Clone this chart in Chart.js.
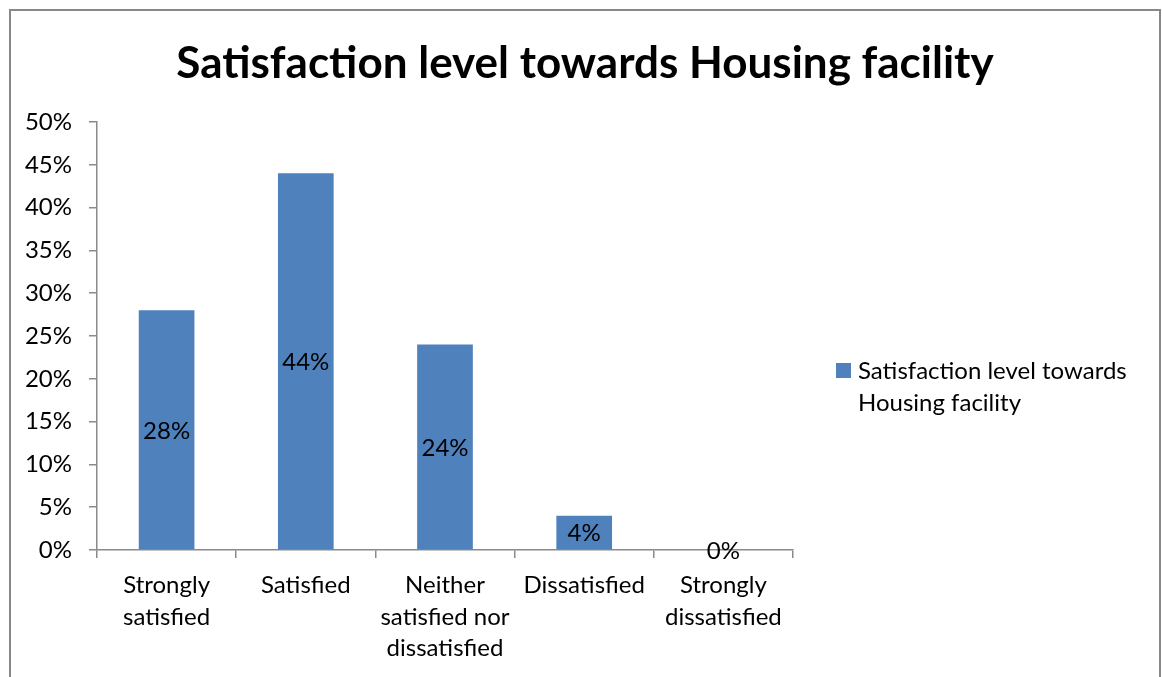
<!DOCTYPE html>
<html>
<head>
<meta charset="utf-8">
<title>Satisfaction level towards Housing facility</title>
<script src="https://cdn.jsdelivr.net/npm/chart.js@4"></script>
<style>
  body { margin: 0; background: #fff; }
  #wrap { position: relative; width: 1162px; height: 677px; }
</style>
</head>
<body>
<div id="wrap">
  <canvas id="housing-chart" width="1162" height="677"></canvas>
</div>
<script>
const chartTitle = 'Satisfaction level towards Housing facility';
const seriesName = ['Satisfaction level towards', 'Housing facility'];
const categories = [
  ['Strongly', 'satisfied'],
  ['Satisfied'],
  ['Neither', 'satisfied nor', 'dissatisfied'],
  ['Dissatisfied'],
  ['Strongly', 'dissatisfied']
];
const percentValues = [28, 44, 24, 4, 0];
const yTicks = [0, 5, 10, 15, 20, 25, 30, 35, 40, 45, 50];

const FONT = 'Lato, Calibri, Carlito, sans-serif';
const TEXT_SIZE = 24;
const barColor = '#4f81bd';
const axisColor = '#8a8a8a';

// outer frame + title, centred on the whole canvas
const framePlugin = {
  id: 'frame',
  beforeDraw(chart) {
    const ctx = chart.ctx;
    ctx.save();
    ctx.strokeStyle = '#888888';
    ctx.lineWidth = 2;
    ctx.beginPath();
    ctx.moveTo(10, 700);
    ctx.lineTo(10, 10);
    ctx.lineTo(1160, 10);
    ctx.lineTo(1160, 700);
    ctx.stroke();

    ctx.fillStyle = '#000';
    ctx.font = 'bold 44px ' + FONT;
    ctx.textAlign = 'center';
    ctx.textBaseline = 'middle';
    ctx.fillText(chartTitle, 585, 64);
    ctx.restore();
  }
};

// value labels in the middle of each bar
const barLabels = {
  id: 'barLabels',
  afterDatasetsDraw(chart) {
    const ctx = chart.ctx;
    const meta = chart.getDatasetMeta(0);
    ctx.save();
    ctx.font = TEXT_SIZE + 'px ' + FONT;
    ctx.fillStyle = '#000';
    ctx.textAlign = 'center';
    ctx.textBaseline = 'middle';
    meta.data.forEach((bar, i) => {
      const v = chart.data.datasets[0].data[i];
      ctx.fillText(v + '%', bar.x, (bar.y + bar.base) / 2 + 1);
    });
    ctx.restore();
  }
};

// legend on the right
const sideLegend = {
  id: 'sideLegend',
  afterDraw(chart) {
    const ctx = chart.ctx;
    ctx.save();
    ctx.fillStyle = barColor;
    ctx.fillRect(836, 363, 15, 15);
    ctx.fillStyle = '#000';
    ctx.font = TEXT_SIZE + 'px ' + FONT;
    ctx.textAlign = 'left';
    ctx.textBaseline = 'middle';
    seriesName.forEach((line, i) => {
      ctx.fillText(line, 858, 371 + i * 32);
    });
    ctx.restore();
  }
};

new Chart(document.getElementById('housing-chart'), {
  type: 'bar',
  data: {
    labels: categories,
    datasets: [{
      label: seriesName.join(' '),
      data: percentValues,
      backgroundColor: barColor,
      borderWidth: 0,
      barPercentage: 0.4,
      categoryPercentage: 1.0
    }]
  },
  options: {
    responsive: false,
    animation: false,
    layout: {
      padding: { left: 10, right: 369, top: 122, bottom: 0 }
    },
    plugins: {
      legend: { display: false },
      tooltip: { enabled: false },
      title: { display: false }
    },
    scales: {
      x: {
        offset: true,
        grid: {
          offset: true,
          drawOnChartArea: false,
          tickLength: 8,
          color: axisColor,
          lineWidth: 1.5
        },
        border: { color: axisColor, width: 1.5 },
        ticks: {
          color: '#000',
          padding: 12,
          maxRotation: 0,
          autoSkip: false,
          font: { family: FONT, size: TEXT_SIZE, lineHeight: 1.3 }
        },
        afterFit(scale) { scale.height = 677 - 550; }
      },
      y: {
        min: 0,
        max: 50,
        afterBuildTicks(scale) {
          scale.ticks = yTicks.map(v => ({ value: v }));
        },
        grid: {
          drawOnChartArea: false,
          tickLength: 8,
          color: axisColor,
          lineWidth: 1.5
        },
        border: { color: axisColor, width: 1.5 },
        ticks: {
          color: '#000',
          padding: 17,
          font: { family: FONT, size: TEXT_SIZE },
          callback: v => v + '%'
        },
        afterFit(scale) { scale.width = 97 - 10; }
      }
    }
  },
  plugins: [framePlugin, barLabels, sideLegend]
});
</script>
</body>
</html>
